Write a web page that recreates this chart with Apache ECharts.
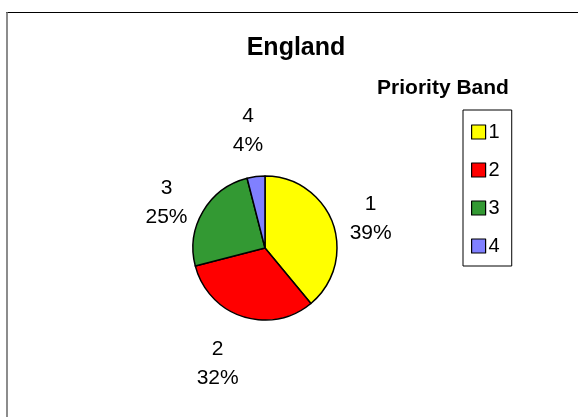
<!DOCTYPE html>
<html>
<head>
<meta charset="utf-8">
<script src="https://cdn.jsdelivr.net/npm/echarts@6/dist/echarts.min.js"></script>
<style>
  html, body { margin: 0; padding: 0; background: #fff; }
  #chart { width: 578px; height: 417px; }
</style>
</head>
<body>
<div id="chart"></div>
<script>
// Priority band shares for England
const categories = ['1', '2', '3', '4'];
const shares = [39, 32, 25, 4];
const bandColors = ['#FFFF00', '#FF0000', '#339933', '#8080FF'];

const FONT = '"Liberation Sans", Arial, sans-serif';
const pieCenter = [265, 248];
const pieRadius = 72;

// Place each label just outside its slice, anchored on the box edge facing the pie
const total = shares.reduce((a, b) => a + b, 0);
function labelPlacement(params) {
  const i = params.dataIndex;
  let before = 0;
  for (let k = 0; k < i; k++) before += shares[k];
  const mid = (before + shares[i] / 2) / total * Math.PI * 2; // clockwise from top
  const dx = Math.sin(mid);
  const dy = -Math.cos(mid);
  const w = params.labelRect.width;
  const h = params.labelRect.height;
  const R = pieRadius + 18;
  const fx = Math.sign(dx) * Math.min(1, Math.abs(dx) * 3);
  const fy = Math.sign(dy) * Math.min(1, Math.max(0, (Math.abs(dy) - 0.55) / 0.4));
  return {
    x: pieCenter[0] + dx * R + fx * w / 2,
    y: pieCenter[1] + dy * R + fy * h / 2 + 1,
    align: 'center',
    verticalAlign: 'middle'
  };
}

const chart = echarts.init(document.getElementById('chart'), null, { renderer: 'canvas' });
chart.setOption({
  backgroundColor: '#fff',
  animation: false,
  title: [
    {
      text: 'England',
      left: 296,
      top: 36,
      textAlign: 'center',
      padding: 0,
      textStyle: { fontFamily: FONT, fontWeight: 'bold', fontSize: 25, color: '#000' }
    },
    {
      text: 'Priority Band',
      left: 443,
      top: 78,
      textAlign: 'center',
      padding: 0,
      textStyle: { fontFamily: FONT, fontWeight: 'bold', fontSize: 21, color: '#000' }
    }
  ],
  legend: {
    orient: 'vertical',
    left: 463,
    top: 110,
    padding: [12, 12, 10, 8],
    itemGap: 18,
    itemWidth: 14,
    itemHeight: 14,
    icon: 'rect',
    borderColor: '#000',
    borderWidth: 1,
    borderRadius: 0,
    data: categories,
    itemStyle: { borderColor: '#000', borderWidth: 1.2 },
    textStyle: { fontFamily: FONT, fontSize: 20, color: '#000', padding: [0, 0, 0, -2] }
  },
  graphic: [
    { type: 'line', shape: { x1: 6, y1: 12.5, x2: 578, y2: 12.5 }, style: { stroke: '#000', lineWidth: 1 } },
    { type: 'line', shape: { x1: 7, y1: 12, x2: 7, y2: 417 }, style: { stroke: '#707070', lineWidth: 1.6 } }
  ],
  series: [
    {
      type: 'pie',
      center: pieCenter,
      radius: pieRadius,
      startAngle: 90,
      clockwise: true,
      avoidLabelOverlap: false,
      data: categories.map((c, i) => ({
        name: c,
        value: shares[i],
        itemStyle: { color: bandColors[i] }
      })),
      itemStyle: { borderColor: '#000', borderWidth: 1.5 },
      label: {
        show: true,
        position: 'outside',
        fontFamily: FONT,
        fontSize: 21,
        lineHeight: 29,
        color: '#000',
        align: 'center',
        formatter: p => p.name + '\n' + Math.round(p.percent) + '%'
      },
      labelLine: { show: false },
      labelLayout: labelPlacement,
      emphasis: { disabled: true }
    }
  ]
});
</script>
</body>
</html>
